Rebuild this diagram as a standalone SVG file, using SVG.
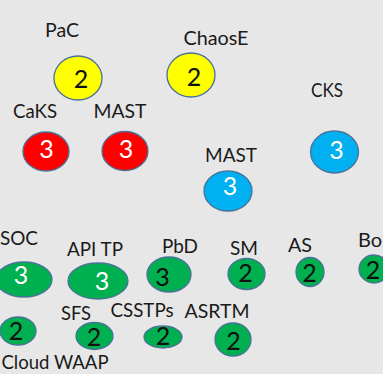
<svg xmlns="http://www.w3.org/2000/svg" width="383" height="374" viewBox="0 0 383 374">
  <style>
    .lbl { font-family: Lato, "Open Sans", "Liberation Sans", sans-serif; font-size: 20px; fill: #1a1a1a; text-anchor: middle; }
    .num { font-family: Lato, "Open Sans", "Liberation Sans", sans-serif; font-size: 25px; text-anchor: middle; }
    .dark { fill: #111111; }
    .light { fill: #ffffff; }
    .dot { stroke: #4a7298; stroke-width: 1.3; }
    .yellow { fill: #ffff00; }
    .red { fill: #ff0000; }
    .blue { fill: #00b0f0; }
    .green { fill: #00b050; }
  </style>
  <rect x="0" y="0" width="383" height="374" fill="#e7e7e7"/>

  <!-- level 2, yellow -->
  <g id="pac">
    <text class="lbl" x="62" y="37" textLength="34" lengthAdjust="spacingAndGlyphs">PaC</text>
    <ellipse class="dot yellow" cx="78" cy="78" rx="24" ry="22"/>
    <text class="num dark" x="81" y="88">2</text>
  </g>
  <g id="chaose">
    <text class="lbl" x="216" y="45" textLength="65" lengthAdjust="spacingAndGlyphs">ChaosE</text>
    <ellipse class="dot yellow" cx="191" cy="75" rx="24" ry="22"/>
    <text class="num dark" x="194" y="86">2</text>
  </g>

  <!-- level 3, red -->
  <g id="caks">
    <text class="lbl" x="35" y="118" textLength="44" lengthAdjust="spacingAndGlyphs">CaKS</text>
    <ellipse class="dot red" cx="46" cy="151.5" rx="23" ry="19.5"/>
    <text class="num light" x="46.5" y="158">3</text>
  </g>
  <g id="mast-red">
    <text class="lbl" x="120" y="118" textLength="53" lengthAdjust="spacingAndGlyphs">MAST</text>
    <ellipse class="dot red" cx="125" cy="151" rx="23" ry="19.5"/>
    <text class="num light" x="126" y="158">3</text>
  </g>

  <!-- level 3, blue -->
  <g id="cks">
    <text class="lbl" x="327" y="97" textLength="32" lengthAdjust="spacingAndGlyphs">CKS</text>
    <ellipse class="dot blue" cx="334.5" cy="152" rx="24" ry="21"/>
    <text class="num light" x="336.5" y="159">3</text>
  </g>
  <g id="mast-blue">
    <text class="lbl" x="231" y="162" textLength="52" lengthAdjust="spacingAndGlyphs">MAST</text>
    <ellipse class="dot blue" cx="228" cy="191" rx="24" ry="20"/>
    <text class="num light" x="230" y="195">3</text>
  </g>

  <!-- green row -->
  <g id="soc">
    <text class="lbl" x="19" y="245" textLength="38" lengthAdjust="spacingAndGlyphs">SOC</text>
    <ellipse class="dot green" cx="24" cy="279.5" rx="28" ry="17.5"/>
    <text class="num light" x="21" y="284">3</text>
  </g>
  <g id="api-tp">
    <text class="lbl" x="95" y="256" textLength="56" lengthAdjust="spacingAndGlyphs">API TP</text>
    <ellipse class="dot green" cx="98" cy="281" rx="30" ry="18"/>
    <text class="num light" x="102" y="290">3</text>
  </g>
  <g id="pbd">
    <text class="lbl" x="180" y="253" textLength="36" lengthAdjust="spacingAndGlyphs">PbD</text>
    <ellipse class="dot green" cx="169" cy="274.5" rx="22" ry="17.5"/>
    <text class="num dark" x="162.5" y="286">3</text>
  </g>
  <g id="sm">
    <text class="lbl" x="244" y="255" textLength="28" lengthAdjust="spacingAndGlyphs">SM</text>
    <ellipse class="dot green" cx="246.5" cy="274" rx="18.5" ry="15.5"/>
    <text class="num dark" x="245.5" y="282">2</text>
  </g>
  <g id="as">
    <text class="lbl" x="300" y="252" textLength="24" lengthAdjust="spacingAndGlyphs">AS</text>
    <ellipse class="dot green" cx="310" cy="272" rx="14" ry="14.5"/>
    <text class="num dark" x="309.5" y="282">2</text>
  </g>
  <g id="bo">
    <text class="lbl" x="358" y="247" style="text-anchor:start">Bo</text>
    <ellipse class="dot green" cx="374" cy="269" rx="15" ry="14"/>
    <text class="num dark" x="373" y="279">2</text>
  </g>

  <!-- second green row -->
  <g id="cloud-waap">
    <ellipse class="dot green" cx="18" cy="331" rx="18" ry="14"/>
    <text class="num dark" x="16" y="340">2</text>
    <text class="lbl" x="55" y="369" textLength="107" lengthAdjust="spacingAndGlyphs">Cloud WAAP</text>
  </g>
  <g id="sfs">
    <text class="lbl" x="76" y="320" textLength="30" lengthAdjust="spacingAndGlyphs">SFS</text>
    <ellipse class="dot green" cx="94.5" cy="336" rx="18.5" ry="13.5"/>
    <text class="num dark" x="94" y="346">2</text>
  </g>
  <g id="csstps">
    <text class="lbl" x="142" y="317" textLength="63" lengthAdjust="spacingAndGlyphs">CSSTPs</text>
    <ellipse class="dot green" cx="163" cy="337" rx="19" ry="11"/>
    <text class="num dark" x="163" y="345">2</text>
  </g>
  <g id="asrtm">
    <text class="lbl" x="217" y="318" textLength="65" lengthAdjust="spacingAndGlyphs">ASRTM</text>
    <ellipse class="dot green" cx="233" cy="339.5" rx="18" ry="16.5"/>
    <text class="num dark" x="233.5" y="350">2</text>
  </g>
</svg>
